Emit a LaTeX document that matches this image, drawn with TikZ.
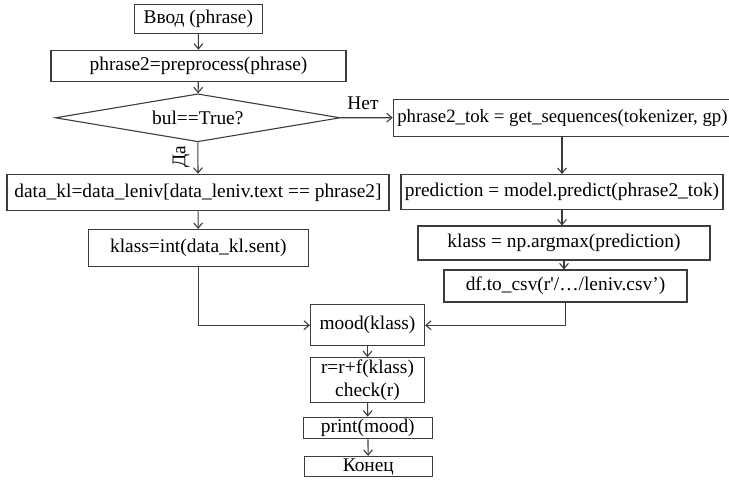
\documentclass[tikz,border=0pt]{standalone}
\usepackage{fontspec}
\setmainfont{Liberation Serif}
\usetikzlibrary{arrows.meta,positioning,shapes.geometric}
\definecolor{liniya}{HTML}{3C3C3C}

\begin{document}
\begin{tikzpicture}[x=0.5pt,y=-0.5pt,font=\fontsize{9.7}{11.4}\selectfont,
    blok/.style 2 args={draw=liniya,line width=0.55pt,inner sep=1pt,
      minimum width=#1*0.5pt,minimum height=#2*0.5pt,align=center},
    romb/.style={diamond,draw=liniya,line width=0.55pt,inner sep=0pt,aspect=6,
      minimum width=285*0.5pt,minimum height=48*0.5pt},
    strelka/.style={draw=liniya,line width=0.55pt,
      -{Straight Barb[length=2.6pt,width=4.4pt]}}]
  \useasboundingbox (0,0) rectangle (729,480);
  % left column
  \node[blok={128}{29}] (vvod) at (198.3,18.7) {Ввод (phrase)};
  \node[blok={295}{31}] (prep) at (198.5,65.8) {phrase2=preprocess(phrase)};
  \node[romb] (uslovie) at (197.8,117.8) {bul==True?};
  \node[blok={382}{36.5}] (datakl) at (198,192.5)
    {data\_kl=data\_leniv[data\_leniv.text == phrase2]};
  \node[blok={220}{37}] (klassL) at (198.3,248) {klass=int(data\_kl.sent)};
  % right column
  \node[blok={0}{37},anchor=west,inner xsep=2pt,font=\fontsize{9.4}{11.4}\selectfont]
    (tok) at (392.7,117.7) {phrase2\_tok = get\_sequences(tokenizer, gp)\hspace{8pt}};
  \node[blok={322}{35}] (pred) at (562,192) {prediction = model.predict(phrase2\_tok)};
  \node[blok={292}{34}] (klassR) at (564,243) {klass = np.argmax(prediction)};
  \node[blok={243}{32}] (csv) at (565.5,286) {df.to\_csv(r\textquotesingle/…/leniv.csv’)};
  % bottom column
  \node[blok={114}{41}] (mood) at (367.5,325.3) {mood(klass)};
  \node[blok={114}{40}] (rr) at (367.5,380) {r=r+f(klass)\\check(r)};
  \node[blok={129}{21}] (pechat) at (367.8,428) {print(mood)};
  \node[blok={128}{20}] (konec) at (368.3,466.7) {Конец};
  % labels
  \node (net) at (363,103) {Нет};
  \node[rotate=90] (da) at (181,157) {Да};
  % connectors
  \draw[strelka] (vvod) -- (prep);
  \draw[strelka] (prep) -- (uslovie);
  \draw[strelka] (uslovie.south) -- (datakl.north);
  \draw[strelka] (uslovie.east) -- (tok.west);
  \draw[strelka] (pred.north |- tok.south) -- (pred.north);
  \draw[strelka] (datakl) -- (klassL);
  \draw[strelka] (pred.south) -- (pred.south |- klassR.north);
  \draw[strelka] (klassR.south) -- (klassR.south |- csv.north);
  \draw[strelka] (klassL.south) |- (mood.west);
  \draw[strelka] (csv.south) |- (mood.east);
  \draw[strelka] (mood) -- (rr);
  \draw[strelka] (rr) -- (pechat);
  \draw[strelka] (pechat) -- (konec);
\end{tikzpicture}
\end{document}
